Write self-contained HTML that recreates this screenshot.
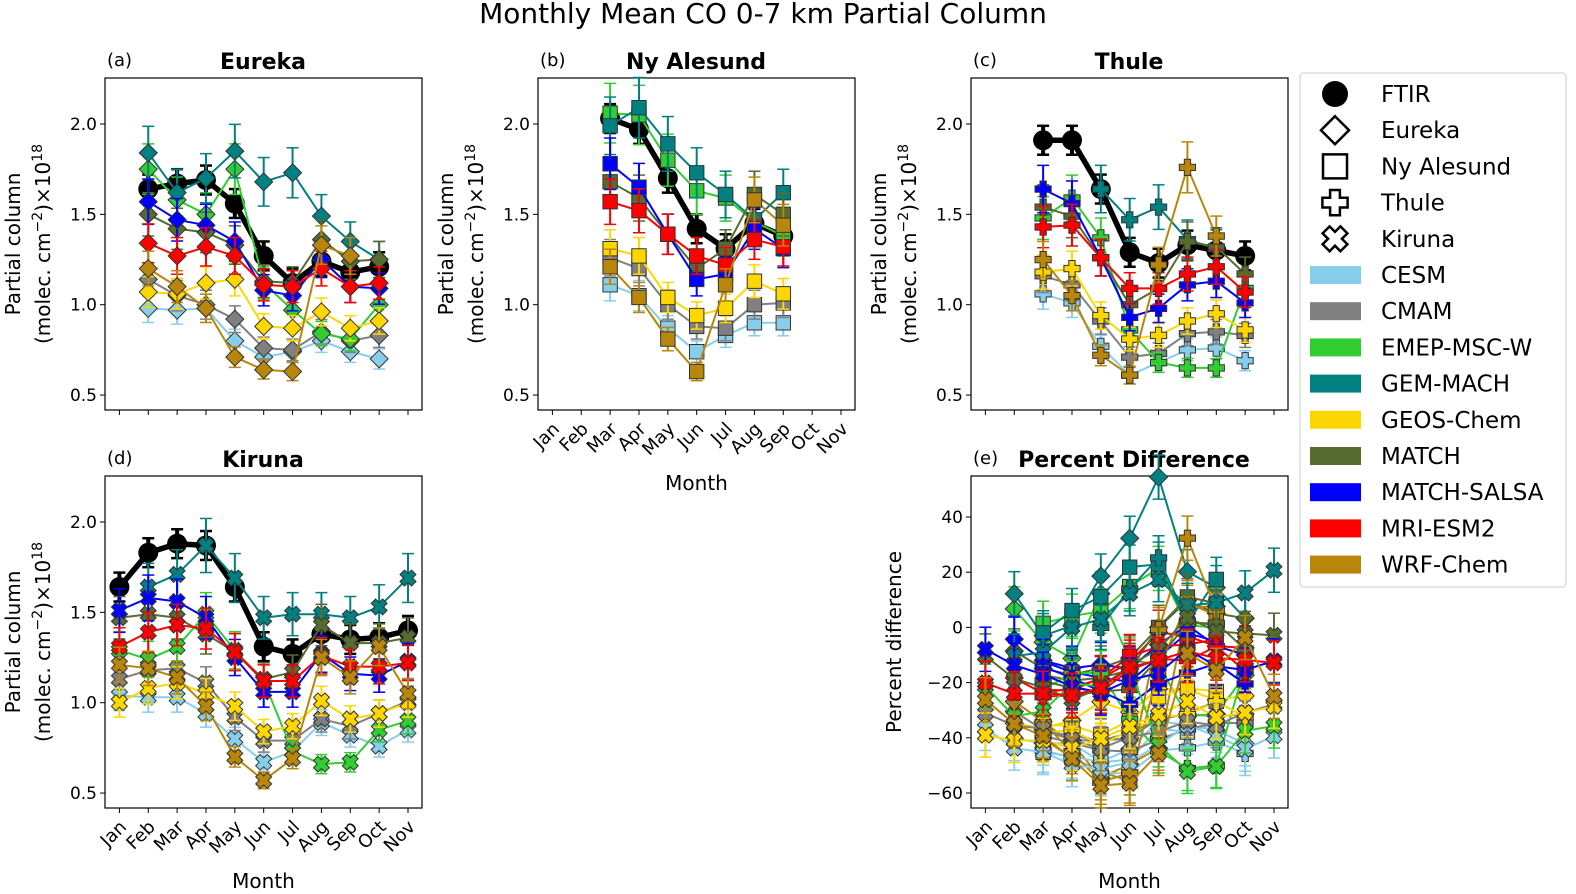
<!DOCTYPE html>
<html><head><meta charset="utf-8"><style>
html,body{margin:0;padding:0;background:#fff;overflow:hidden;width:1576px;height:894px;}
svg{display:block;font-family:"DejaVu Sans","Liberation Sans",sans-serif;}
</style></head><body>
<svg id="fig" width="1576" height="894" viewBox="0 0 1576 894" xmlns="http://www.w3.org/2000/svg">
<text x="763" y="23" font-size="28" text-anchor="middle">Monthly Mean CO 0-7 km Partial Column</text>
</svg>
<script>
const months=["Jan","Feb","Mar","Apr","May","Jun","Jul","Aug","Sep","Oct","Nov"];
const modelNames=["CESM","CMAM","EMEP-MSC-W","GEM-MACH","GEOS-Chem","MATCH","MATCH-SALSA","MRI-ESM2","WRF-Chem"];
const modelColors=["#87ceeb","#808080","#32cd32","#008080","#ffd700","#556b2f","#0000ff","#ff0000","#b8860b"];
const N=null;
// Eureka: Jan..Nov
const eurekaFTIR=[N,1.64,1.67,1.69,1.56,1.27,1.12,1.24,1.18,1.21,N];
const eurekaCESM=[N,0.98,0.97,0.98,0.80,0.71,0.74,0.80,0.74,0.70,N];
const eurekaCMAM=[N,1.14,1.05,1.00,0.92,0.76,0.75,0.85,0.80,0.83,N];
const eurekaEMEP=[N,1.75,1.58,1.50,1.75,1.12,0.97,0.84,0.81,1.00,N];
const eurekaGEM=[N,1.84,1.62,1.70,1.85,1.68,1.73,1.49,1.35,1.25,N];
const eurekaGEOS=[N,1.07,1.06,1.12,1.14,0.88,0.87,0.96,0.87,0.91,N];
const eurekaMATCH=[N,1.50,1.42,1.40,1.33,1.13,1.12,1.36,1.24,1.25,N];
const eurekaSALSA=[N,1.57,1.47,1.44,1.35,1.08,1.05,1.25,1.10,1.09,N];
const eurekaMRI=[N,1.34,1.27,1.32,1.27,1.11,1.10,1.20,1.10,1.12,N];
const eurekaWRF=[N,1.20,1.10,0.98,0.71,0.64,0.63,1.33,1.27,N,N];
// Ny Alesund
const nyFTIR=[N,N,2.03,1.97,1.70,1.42,1.31,1.45,1.38,N,N];
const nyCESM=[N,N,1.11,1.05,0.87,0.74,0.83,0.90,0.90,N,N];
const nyCMAM=[N,N,1.26,1.20,1.00,0.88,0.87,1.00,1.01,N,N];
const nyEMEP=[N,N,2.06,2.05,1.80,1.63,1.59,1.46,1.38,N,N];
const nyGEM=[N,N,1.99,2.09,1.89,1.73,1.61,1.47,1.62,N,N];
const nyGEOS=[N,N,1.31,1.27,1.04,0.94,0.98,1.13,1.06,N,N];
const nyMATCH=[N,N,1.68,1.59,1.39,1.20,1.31,1.61,1.50,N,N];
const nySALSA=[N,N,1.78,1.65,1.39,1.14,1.17,1.42,1.31,N,N];
const nyMRI=[N,N,1.57,1.52,1.39,1.27,1.22,1.36,1.32,N,N];
const nyWRF=[N,N,1.21,1.04,0.81,0.63,1.11,1.58,1.44,N,N];
// Thule
const thuleFTIR=[N,N,1.91,1.91,1.64,1.29,1.23,1.33,1.30,1.27,N];
const thuleCESM=[N,N,1.06,1.01,0.77,0.61,0.68,0.75,0.76,0.69,N];
const thuleCMAM=[N,N,1.16,1.11,0.91,0.71,0.73,0.84,0.85,0.83,N];
const thuleEMEP=[N,N,1.48,1.59,1.37,0.86,0.68,0.65,0.65,1.09,N];
const thuleGEM=[N,N,N,N,1.64,1.47,1.54,1.36,1.31,N,N];
const thuleGEOS=[N,N,1.18,1.20,0.94,0.81,0.83,0.91,0.95,0.86,N];
const thuleMATCH=[N,N,1.54,1.49,1.26,1.00,1.09,1.35,1.32,1.17,N];
const thuleSALSA=[N,N,1.64,1.56,1.26,0.93,0.98,1.11,1.13,1.01,N];
const thuleMRI=[N,N,1.43,1.44,1.26,1.09,1.09,1.17,1.21,1.07,N];
const thuleWRF=[N,N,1.25,1.05,0.72,0.61,1.22,1.76,1.38,N,N];
// Kiruna
const kirunaFTIR=[1.64,1.83,1.88,1.87,1.64,1.31,1.27,1.38,1.35,1.36,1.40];
const kirunaCESM=[1.04,1.03,1.03,0.94,0.80,0.67,0.73,0.89,0.82,0.76,0.85];
const kirunaCMAM=[1.13,1.18,1.19,1.11,0.92,0.79,0.79,0.91,0.87,0.94,1.01];
const kirunaEMEP=[1.29,1.24,1.31,1.49,1.29,1.12,0.73,0.66,0.67,0.85,0.90];
const kirunaGEM=[N,1.64,1.71,1.87,1.69,1.47,1.49,1.49,1.47,1.53,1.69];
const kirunaGEOS=[1.00,1.08,1.11,1.05,0.98,0.84,0.87,1.01,0.91,0.94,1.00];
const kirunaMATCH=[1.47,1.49,1.47,1.38,1.28,1.13,1.17,1.43,1.33,1.33,1.36];
const kirunaSALSA=[1.51,1.58,1.56,1.47,1.25,1.06,1.06,1.27,1.16,1.15,1.23];
const kirunaMRI=[1.31,1.39,1.43,1.41,1.28,1.12,1.12,1.26,1.20,1.20,1.22];
const kirunaWRF=[1.21,1.19,1.14,0.98,0.70,0.57,0.69,1.25,1.14,1.31,1.05];

const yTicks=[0.5,1.0,1.5,2.0];
const yTickLabels=["0.5","1.0","1.5","2.0"];
const pdTicks=[-60,-40,-20,0,20,40];
const pdTickLabels=["−60","−40","−20","0","20","40"];

const sites=[
 {name:"Eureka",shape:"diamond",ftir:eurekaFTIR,models:[eurekaCESM,eurekaCMAM,eurekaEMEP,eurekaGEM,eurekaGEOS,eurekaMATCH,eurekaSALSA,eurekaMRI,eurekaWRF]},
 {name:"Ny Alesund",shape:"square",ftir:nyFTIR,models:[nyCESM,nyCMAM,nyEMEP,nyGEM,nyGEOS,nyMATCH,nySALSA,nyMRI,nyWRF]},
 {name:"Thule",shape:"plus",ftir:thuleFTIR,models:[thuleCESM,thuleCMAM,thuleEMEP,thuleGEM,thuleGEOS,thuleMATCH,thuleSALSA,thuleMRI,thuleWRF]},
 {name:"Kiruna",shape:"x",ftir:kirunaFTIR,models:[kirunaCESM,kirunaCMAM,kirunaEMEP,kirunaGEM,kirunaGEOS,kirunaMATCH,kirunaSALSA,kirunaMRI,kirunaWRF]}
];

const NS="http://www.w3.org/2000/svg";
const svg=document.getElementById("fig");
function el(tag,attrs,parent,text){const e=document.createElementNS(NS,tag);for(const k in attrs)e.setAttribute(k,attrs[k]);if(text!==undefined)e.textContent=text;(parent||svg).appendChild(e);return e;}

function markerPts(shape,cx,cy,s){
 if(shape==="diamond"){return `${cx},${cy-s} ${cx+s},${cy} ${cx},${cy+s} ${cx-s},${cy}`;}
 if(shape==="square"){const h=s*0.8;return `${cx-h},${cy-h} ${cx+h},${cy-h} ${cx+h},${cy+h} ${cx-h},${cy+h}`;}
 const a=s*0.35,b=s*0.9;
 let p=[[-a,-b],[a,-b],[a,-a],[b,-a],[b,a],[a,a],[a,b],[-a,b],[-a,a],[-b,a],[-b,-a],[-a,-a]];
 if(shape==="x"){const c=Math.SQRT1_2;p=p.map(([x,y])=>[(x-y)*c,(x+y)*c]);}
 return p.map(([x,y])=>`${(cx+x).toFixed(1)},${(cy+y).toFixed(1)}`).join(" ");
}

function makePanel(p){
 const g=el("g",{});
 
 
 const xs=i=>p.x0+14.4+i*28.86;
 const ys=v=>p.yAt(v);
 el("rect",{x:p.x0,y:p.y0,width:p.w,height:p.h,fill:"none",stroke:"#000","stroke-width":1.2},g);
 p.yt.forEach((t,i)=>{const y=ys(t);el("line",{x1:p.x0-5,x2:p.x0,y1:y,y2:y,stroke:"#000","stroke-width":1},g);
  const tl=el("text",{x:p.x0-8,y:y+6,"font-size":17,"text-anchor":"end"},g,p.ytl[i]);
  });
 months.forEach((m,i)=>{const x=xs(i);el("line",{x1:x,x2:x,y1:p.y0+p.h,y2:p.y0+p.h+5,stroke:"#000","stroke-width":1},g);
  if(p.xlabels){const tx=x+8,ty=p.y0+p.h+20;const t=el("text",{x:tx,y:ty,"font-size":18,"text-anchor":"end",transform:`rotate(-45 ${tx} ${ty})`},g,m);
   }});
 if(p.xlabels){const t=el("text",{x:p.x0+p.w/2,y:p.y0+p.h+80,"font-size":20,"text-anchor":"middle"},g,"Month");
  }
 const pl=el("text",{x:p.x0+2,y:p.y0-12,"font-size":18},g,p.letter);
 
 const tt=el("text",{x:p.tx,y:p.y0-9,"font-size":22,"font-weight":"bold","text-anchor":"middle"},g,p.title);
 
 const lx=p.x0-85,cy=p.y0+p.h/2;
 if(p.pd){const t=el("text",{x:p.x0-70,y:cy,"font-size":20,"text-anchor":"middle",transform:`rotate(-90 ${p.x0-70} ${cy})`},g,"Percent difference");
  }
 else{const t=el("text",{x:lx,y:cy,"font-size":20,"text-anchor":"middle",transform:`rotate(-90 ${lx} ${cy})`},g,"Partial column");
  
  const t2=el("text",{x:lx+30,y:cy,"font-size":20,"text-anchor":"middle",transform:`rotate(-90 ${lx+30} ${cy})`},g);
  
  t2.innerHTML='(molec. cm<tspan dy="-8" font-size="14">−2</tspan><tspan dy="8">)×10</tspan><tspan dy="-8" font-size="14">18</tspan>';}
 return {g,xs,ys};
}

function drawSeries(g,xs,ys,vals,color,shape,errAbs,isFTIR,name){
 const sg=el("g",{},g);
 
 
 const pts=[];vals.forEach((v,i)=>{if(v!==null)pts.push([xs(i),ys(v),i,v]);});
 pts.forEach(([x,y,i,v])=>{const e=errAbs(v);const y1=ys(v+e),y2=ys(v-e);
  el("line",{x1:x,x2:x,y1:y1,y2:y2,stroke:color,"stroke-width":isFTIR?4:2},sg);
  el("line",{x1:x-6,x2:x+6,y1:y1,y2:y1,stroke:color,"stroke-width":isFTIR?2.5:1.5},sg);
  el("line",{x1:x-6,x2:x+6,y1:y2,y2:y2,stroke:color,"stroke-width":isFTIR?2.5:1.5},sg);});
 el("polyline",{points:pts.map(p=>p[0].toFixed(1)+","+p[1].toFixed(1)).join(" "),fill:"none",stroke:color,"stroke-width":isFTIR?5.5:2,"stroke-linejoin":"round"},sg);
 pts.forEach(([x,y])=>{
  let m;
  if(isFTIR)m=el("circle",{cx:x,cy:y,r:10,fill:"#000"},sg);
  else m=el("polygon",{points:markerPts(shape,x,y,9),fill:color,stroke:"#333","stroke-width":1},sg);
  
 });
}

const panels=[
 {id:"panel-eureka",letter:"(a)",title:"Eureka",tx:263,x0:105,y0:78,w:317,h:332,xlabels:false,site:0},
 {id:"panel-ny-alesund",letter:"(b)",title:"Ny Alesund",tx:696,x0:538,y0:78,w:317,h:332,xlabels:true,site:1},
 {id:"panel-thule",letter:"(c)",title:"Thule",tx:1129,x0:971,y0:78,w:317,h:332,xlabels:false,site:2},
 {id:"panel-kiruna",letter:"(d)",title:"Kiruna",tx:263,x0:105,y0:476,w:317,h:332,xlabels:true,site:3}
];
panels.forEach(p=>{
 const base=p.y0+46;p.yAt=v=>base+(2.0-v)*180.7;p.yt=yTicks;p.ytl=yTickLabels;
 const {g,xs,ys}=makePanel(p);const s=sites[p.site];
 drawSeries(g,xs,ys,s.ftir,"#000","circle",v=>0.08,true,"series-ftir");
 s.models.forEach((m,k)=>drawSeries(g,xs,ys,m,modelColors[k],s.shape,v=>v*0.08,false,"series-"+modelNames[k].toLowerCase()));
});
{
 const p={id:"panel-percent-difference",letter:"(e)",title:"Percent Difference",tx:1134,x0:971,y0:476,w:317,h:332,xlabels:true,pd:true,yt:pdTicks,ytl:pdTickLabels};
 p.yAt=v=>517+(40-v)*2.76;
 const {g,xs,ys}=makePanel(p);
 sites.forEach(s=>{
  s.models.forEach((m,k)=>{
   const pd=m.map((v,i)=>(v===null||s.ftir[i]===null)?null:(v-s.ftir[i])/s.ftir[i]*100);
   drawSeries(g,xs,ys,pd,modelColors[k],s.shape,v=>8,false,"pd-"+s.name.toLowerCase().replace(" ","-")+"-"+modelNames[k].toLowerCase());
  });
 });
}
{
 const lg=el("g",{});
 
 
 el("rect",{x:1300,y:73,width:266,height:514,rx:4,fill:"#fff",stroke:"#ccc","stroke-width":1},lg);
 const entries=[["FTIR","circle"],["Eureka","diamond"],["Ny Alesund","square"],["Thule","plus"],["Kiruna","x"]];
 entries.forEach(([n,sh],i)=>{const y=94+i*36.2;
  const eg=el("g",{},lg);
  if(sh==="circle")el("circle",{cx:1335,cy:y,r:13,fill:"#000"},eg);
  else el("polygon",{points:markerPts(sh,1335,y,sh==="square"?15:14),fill:"#fff",stroke:"#000","stroke-width":2.5},eg);
  el("text",{x:1381,y:y+8,"font-size":23},eg,n);});
 modelNames.forEach((n,k)=>{const y=94+(k+5)*36.2;
  const eg=el("g",{},lg);
  el("rect",{x:1310,y:y-9,width:51,height:18,fill:modelColors[k]},eg);
  el("text",{x:1381,y:y+8,"font-size":23},eg,n);});
}
</script>
</body></html>
